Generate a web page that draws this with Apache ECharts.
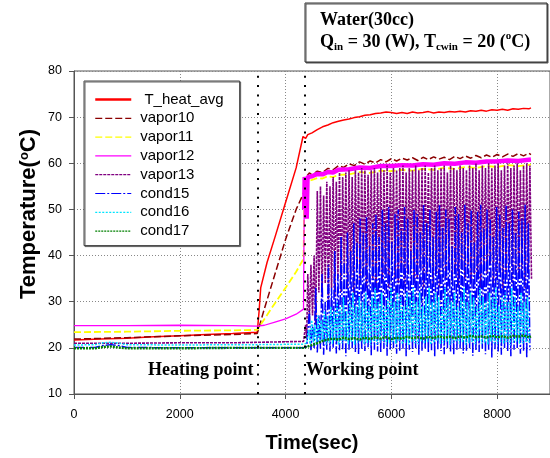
<!DOCTYPE html>
<html>
<head>
<meta charset="utf-8">
<script src="https://cdn.jsdelivr.net/npm/echarts@6/dist/echarts.min.js"></script>
<style>
html, body { margin: 0; padding: 0; background: #fff; }
#chart { width: 550px; height: 458px; }
</style>
</head>
<body>
<div id="chart"></div>
<script>
// Temperature history of the heat pipe test, Water(30cc), Qin = 30 W

var seriesNames = ['T_heat_avg', 'vapor10', 'vapor11', 'vapor12', 'vapor13', 'cond15', 'cond16', 'cond17'];
var markerTimes = [3465, 4368];   // heating point, working point

// smooth curves, [time, temperature]
var tHeatAvg = [[0,21.7],[500,21.9],[1000,22.1],[1500,22.4],[2000,22.6],[2500,22.9],[3000,23.1],[3465,23.4],
  [3500,28],[3530,33],[3650,38.5],[3800,44],[4000,51.5],[4200,59],[4330,65.8],[4380,65.4],[4420,66.2],
  [4500,66.6],[4600,67.3],[4700,67.9],[4800,68.3],[4900,68.8],[5000,69.1],[5100,69.4],[5200,69.6],[5300,69.9],
  [5400,70.1],[5500,70.4],[5600,70.5],[5700,70.8],[5800,70.9],[5900,71.1],[6000,71.0],[6100,70.8],[6200,71.0],
  [6300,70.8],[6400,71.1],[6500,70.9],[6600,71.0],[6700,71.2],[6800,70.9],[6900,71.1],[7000,71.0],[7100,71.2],
  [7200,71.1],[7300,71.3],[7400,71.1],[7500,71.4],[7600,71.3],[7700,71.5],[7800,71.3],[7900,71.6],[8000,71.5],
  [8100,71.7],[8200,71.5],[8300,71.8],[8400,71.7],[8500,71.9],[8600,71.8],[8640,72.0]];

var vapor10 = [[0,21.9],[1000,22.2],[2000,22.6],[3000,22.9],[3465,23.1],[3600,28.5],[3800,36],[4000,43.5],
  [4200,50],[4340,53.5],[4355,56.5],[4400,57.2],[4450,57.9],[4500,57.5],[4600,58.3],[4700,58.0],[4800,58.9],
  [4900,58.6],[5000,59.5],[5100,59.1],[5200,59.9],[5300,59.5],[5400,60.3],[5500,59.8],[5600,60.5],[5700,60.1],
  [5800,60.8],[5900,60.3],[6000,61.0],[6100,60.5],[6200,61.1],[6300,60.7],[6400,61.2],[6500,60.6],[6600,61.3],
  [6700,60.8],[6800,61.4],[6900,60.9],[7000,61.3],[7100,60.8],[7200,61.5],[7300,61.0],[7400,61.6],[7500,61.1],
  [7600,61.7],[7700,61.2],[7800,61.8],[7900,61.3],[8000,61.9],[8100,61.4],[8200,62.0],[8300,61.5],[8400,62.1],
  [8500,61.6],[8600,62.2],[8640,61.9]];

var vapor11 = [[0,23.4],[1000,23.5],[2000,23.7],[3000,23.8],[3465,23.9],[3700,28],[4000,33],[4200,36.5],
  [4340,39.3],[4360,55],[4400,56.1],[4500,56.4],[4600,56.8],[4700,56.7],[4800,57.2],[4900,57.0],[5000,57.5],
  [5200,57.6],[5400,58.1],[5600,57.9],[5800,58.4],[6000,58.3],[6200,58.6],[6400,58.4],[6600,58.8],[6800,58.6],
  [7000,59.0],[7200,58.8],[7400,59.2],[7600,59.0],[7800,59.4],[8000,59.2],[8200,59.6],[8400,59.4],[8640,59.7]];

// vapor12 before the working point (thin) and after it (a thick band)
var vapor12Pre = [[0,24.8],[1000,24.8],[2000,24.9],[3000,24.8],[3465,24.7],[3600,24.9],[3800,25.6],[4000,26.3],
  [4200,27.3],[4340,28.4],[4352,50]];
var vapor12Band = [[4352,50],[4362,57],[4385,56],[4400,48],[4415,57],[4450,57.4],[4500,57.2],[4600,57.7],
  [4700,57.6],[4800,58.1],[4900,58.0],[5000,58.6],[5200,58.7],[5400,59.1],[5600,59.0],[5800,59.4],[6000,59.4],
  [6200,59.6],[6400,59.5],[6600,59.8],[6800,59.7],[7000,60.0],[7200,59.9],[7400,60.2],[7600,60.1],[7800,60.4],
  [8000,60.4],[8200,60.6],[8400,60.5],[8640,60.8]];

var cond17 = [[0,19.9],[400,19.9],[550,20.2],[700,20.3],[900,20.0],[1000,19.9],[2000,19.9],[3000,20.0],
  [4340,20.0],[4400,20.2],[4500,20.6],[4600,21.0],[4700,21.5],[4800,21.8],[4900,22.0],[5000,21.8],[5100,22.2],
  [5200,21.9],[5300,22.1],[5400,21.8],[5500,22.2],[5600,21.9],[5700,22.3],[5800,22.0],[5900,22.3],[6000,21.9],
  [6100,22.2],[6200,22.0],[6300,22.4],[6400,22.1],[6500,22.3],[6600,22.0],[6700,22.4],[6800,22.1],[6900,22.5],
  [7000,22.2],[7100,22.4],[7200,22.1],[7300,22.5],[7400,22.2],[7500,22.6],[7600,22.3],[7700,22.5],[7800,22.2],
  [7900,22.6],[8000,22.3],[8100,22.5],[8200,22.2],[8300,22.6],[8400,22.4],[8500,22.7],[8600,22.3],[8640,22.5]];

// oscillating curves: level before the working point, then one peak and one trough per cycle
var vapor13Pre = [[0,21.0],[1000,21.0],[2000,21.1],[3000,21.1],[3465,21.2],[4340,21.4],[4380,25],[4400,22]];
var vapor13Start = 4420, vapor13Step = 60;
var vapor13Peaks = [36,38,40,54,55,53,56,55,57,56, 58,57,58,58.5,57,58.5,58,59,58.5,57.5,
  58.5,59,58,59,58.5,59.5,58,59,58.5,59, 59.5,58,59,58.5,59.5,58.5,59,59.5,58,59,
  59.5,58.5,59,59.5,58,59.5,59,58.5,59.5,59, 58.5,59.5,59,60,58.5,59.5,59,60,59,59.5,
  60,58.5,59.5,60,59,59.5,60,58.5,59.5,60,59.5];
var vapor13Troughs = [26,27,25,32,31,34,30,33,31,35, 32,36,33,35,31,37,34,36,33,38,
  35,32,37,34,36,33,38,35,34,37, 33,36,38,34,35,37,33,36,38,34,
  36,33,37,35,38,34,36,33,37,35, 38,34,36,35,33,37,36,38,34,35,
  37,33,36,38,34,36,35,37,33,36,35];

var cond15Pre = [[0,20.1],[400,20.1],[550,20.5],[700,20.7],[850,20.5],[1000,20.1],[2000,20.0],[3000,20.0],
  [3465,20.0],[4340,20.0],[4400,20.3]];
var cond15Start = 4450, cond15Step = 60;
var cond15Peaks = [28,25,33,27,36,30,38,33,41,36, 44,39,45,41,47,43,48,45,48.5,42,
  47,49,44,50,47,50.5,43,49,50,46, 50.5,48,41,50,49,45,51,47,50,44,
  49.5,51,46,50,48,42,50.5,49,45,51, 47,50,43,49.5,51,46,50,48,44,50.5,
  49,46,51,47,50,45,49.5,48,51,47];
var cond15Troughs = [19.5,20,19,19.8,18.5,19.6,19.2,20,18.8,19.5, 19.7,18.2,19.5,19.9,19.1,18.6,19.8,19.3,20,18.4,
  19.6,19.2,18.9,19.8,18.3,19.5,19.9,18.7,19.4,19.8, 18.2,19.6,19.1,19.9,18.5,19.4,19.8,18.9,19.5,18.1,
  19.7,19.3,18.6,19.9,19.2,18.4,19.6,19.8,18.8,19.4, 19.9,18.3,19.5,19.1,19.8,18.6,19.4,17.9,19.7,19.2,
  18.5,19.8,19.3,18.2,19.6,19.9,18.7,19.4,17.8,19.5];

var cond16Pre = [[0,20.6],[400,20.7],[550,21.1],[700,21.2],[850,21.0],[1000,20.7],[2000,20.6],[3000,20.7],
  [3465,20.7],[4340,20.8],[4400,21.0]];
var cond16Start = 4435, cond16Step = 60;
var cond16Peaks = [24,26,25,27,26,28,27,29,28,30, 29,31,28,30,32,29,31,30,32,29,
  31,33,30,32,29,31,33,30,32,31, 29,32,31,33,30,32,29,31,33,30,
  32,31,29,33,31,30,32,29,31,33, 30,32,31,29,33,31,30,32,31,33,
  29,31,32,30,33,31,29,32,30,31];
var cond16Troughs = [20.8,21.2,20.6,21.0,21.4,20.7,21.1,20.9,21.3,20.6, 21.0,21.5,20.8,21.2,20.7,21.1,21.4,20.9,21.0,20.6,
  21.3,20.8,21.1,21.5,20.7,21.0,21.2,20.9,21.4,20.8, 21.1,20.6,21.3,21.0,20.8,21.4,20.9,21.2,20.7,21.1,
  21.5,20.8,21.0,21.3,20.6,21.1,21.4,20.9,21.2,20.7, 21.0,21.3,20.8,21.5,20.9,21.1,20.7,21.4,21.0,20.8,
  21.2,20.9,21.3,20.6,21.1,21.4,20.8,21.0,21.2,20.9];

function oscillation(pre, start, step, peaks, troughs) {
  var out = pre.slice();
  for (var k = 0; k < peaks.length; k++) {
    out.push([start + step * k, peaks[k]]);
    out.push([start + step * k + step / 2, troughs[k]]);
  }
  return out;
}

var sans = '"Liberation Sans", Arial, sans-serif';
var serif = '"Liberation Serif", "Times New Roman", serif';

function lineSeries(name, data, color, width, type) {
  return {
    name: name, type: 'line', data: data, symbol: 'none', animation: false,
    lineStyle: { color: color, width: width, type: type },
    itemStyle: { color: color }
  };
}

var myChart = echarts.init(document.getElementById('chart'));

var option = {
  backgroundColor: '#fff',
  animation: false,
  grid: {
    left: 74, right: 0, top: 71, bottom: 64,
    show: true, borderColor: '#555', borderWidth: 1,
    containLabel: false, outerBoundsMode: 'none'
  },
  legend: {
    orient: 'vertical', left: 84, top: 81,
    padding: [11, 16, 7, 10],
    itemWidth: 36, itemHeight: 14, itemGap: 3.8,
    borderColor: '#444', borderWidth: 1, backgroundColor: '#fff',
    shadowColor: '#666', shadowOffsetX: 1, shadowOffsetY: 1, shadowBlur: 0,
    itemStyle: { opacity: 0, borderWidth: 0 },
    lineStyle: { width: 1.2 },
    textStyle: { fontSize: 15, color: '#000', fontFamily: sans, padding: [0, 0, 0, 4] },
    formatter: function (name) { return name === 'T_heat_avg' ? ' ' + name : name; },
    data: seriesNames.map(function (n) {
      return n === 'T_heat_avg' ? { name: n, lineStyle: { width: 2.5 } } : { name: n };
    })
  },
  xAxis: {
    type: 'value', min: 0, max: 9000, interval: 2000,
    name: 'Time(sec)', nameLocation: 'middle', nameGap: 39,
    nameTextStyle: { fontSize: 20, fontWeight: 'bold', color: '#000', fontFamily: sans },
    axisLine: { show: true, lineStyle: { color: '#555', width: 1 } },
    axisTick: { show: true, length: 5, lineStyle: { color: '#555' } },
    axisLabel: {
      fontSize: 12.5, color: '#000', fontFamily: sans, margin: 14, showMaxLabel: false,
      formatter: function (v) { return String(v); }
    },
    splitLine: { show: true, lineStyle: { color: '#888', type: [1, 2], width: 1 } }
  },
  yAxis: {
    type: 'value', min: 10, max: 80, interval: 10,
    axisLine: { show: true, lineStyle: { color: '#555', width: 1 } },
    axisTick: { show: true, length: 5, lineStyle: { color: '#555' } },
    axisLabel: { fontSize: 12.5, color: '#000', fontFamily: sans, margin: 12 },
    splitLine: { show: true, lineStyle: { color: '#888', type: [1, 2], width: 1 } }
  },
  series: [
    lineSeries('T_heat_avg', tHeatAvg, '#ff0000', 1.5, 'solid'),
    lineSeries('vapor10', vapor10, '#8b0000', 1.5, [7, 3]),
    lineSeries('vapor11', vapor11, '#ffff00', 1.8, [7, 3]),
    lineSeries('vapor12', vapor12Pre, '#ff00ff', 1.3, 'solid'),
    lineSeries('vapor12', vapor12Band, '#ff00ff', 4.5, 'solid'),
    lineSeries('vapor13', oscillation(vapor13Pre, vapor13Start, vapor13Step, vapor13Peaks, vapor13Troughs), '#800080', 1.6, [3, 1]),
    lineSeries('cond15', oscillation(cond15Pre, cond15Start, cond15Step, cond15Peaks, cond15Troughs), '#0000ff', 1.5, [10, 2, 2, 2]),
    lineSeries('cond16', oscillation(cond16Pre, cond16Start, cond16Step, cond16Peaks, cond16Troughs), '#00e5ff', 1.5, [2, 1.5]),
    lineSeries('cond17', cond17, '#008000', 2.4, [2, 1]),
    {
      name: 'markers', type: 'line', data: [], silent: true,
      markLine: {
        silent: true, symbol: 'none', animation: false,
        label: { show: false },
        lineStyle: { color: '#000', type: [2, 7.3], width: 2 },
        data: markerTimes.map(function (t) { return { xAxis: t }; })
      }
    }
  ],
  graphic: [
    {
      type: 'text', x: 29, y: 214, rotation: Math.PI / 2, silent: true,
      style: {
        text: 'Temperature({s|o}C)',
        font: 'bold 22px ' + sans, fill: '#000', align: 'center', verticalAlign: 'middle',
        rich: { s: { fontSize: 13, fontWeight: 'bold', fontFamily: sans, verticalAlign: 'top', lineHeight: 13 } }
      }
    },
    {
      type: 'text', x: 148, y: 370, silent: true,
      style: { text: 'Heating point', font: 'bold 18px ' + serif, fill: '#000', verticalAlign: 'middle' }
    },
    {
      type: 'text', x: 306, y: 370, silent: true,
      style: { text: 'Working point', font: 'bold 18px ' + serif, fill: '#000', verticalAlign: 'middle' }
    },
    {
      type: 'rect', silent: true,
      shape: { x: 305, y: 3, width: 242, height: 59 },
      style: { fill: '#fff', stroke: '#333', lineWidth: 1, shadowColor: '#555', shadowOffsetX: 1, shadowOffsetY: 1, shadowBlur: 0 }
    },
    {
      type: 'text', x: 320, y: 9, silent: true,
      style: {
        text: '{b|Water(30cc)}\n{b|Q}{s|in}{b| = 30 (W), T}{s|cwin}{b| = 20 (}{p|o}{b|C)}',
        fill: '#000',
        rich: {
          b: { fontSize: 18, fontWeight: 'bold', fontFamily: serif, lineHeight: 22 },
          s: { fontSize: 11, fontWeight: 'bold', fontFamily: serif, lineHeight: 8, verticalAlign: 'bottom' },
          p: { fontSize: 11, fontWeight: 'bold', fontFamily: serif, lineHeight: 10, verticalAlign: 'top' }
        }
      }
    }
  ]
};

myChart.setOption(option);
</script>
</body>
</html>
